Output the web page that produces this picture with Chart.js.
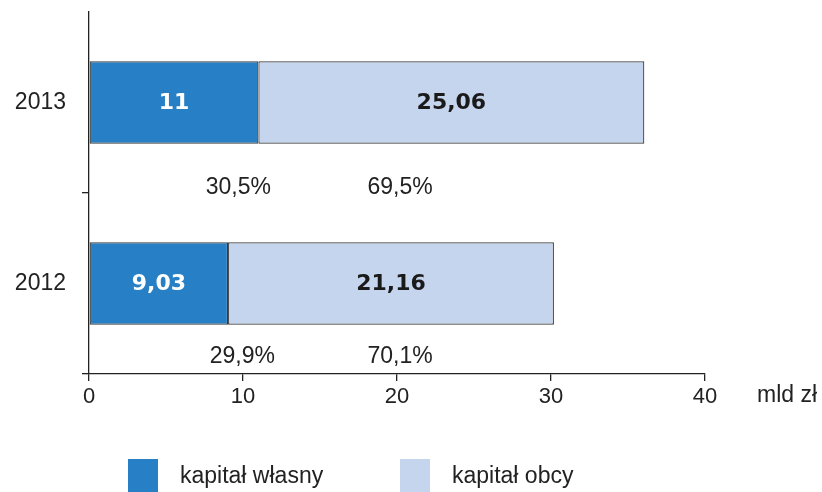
<!DOCTYPE html>
<html>
<head>
<meta charset="utf-8">
<script src="https://cdn.jsdelivr.net/npm/chart.js@4"></script>
<style>
  html, body { margin: 0; padding: 0; background: #fff; }
  #wrap { width: 822px; height: 492px; position: relative; }
</style>
</head>
<body>
<div id="wrap"><canvas id="chart"></canvas></div>
<script>
// data
const years = ['2013', '2012'];
const kapitalWlasny = [11, 9.03];
const kapitalObcy = [25.06, 21.16];
const udzialWlasny = ['30,5%', '29,9%'];
const udzialObcy = ['69,5%', '70,1%'];
const xTicks = [0, 10, 20, 30, 40];
const seriesNames = ['kapitał własny', 'kapitał obcy'];

const BLUE = '#2780c6';
const LIGHT = '#c6d5ee';
const AXIS = '#222222';
const FONT = '"Liberation Sans", Arial, sans-serif';

const fmt = (v) => String(v).replace('.', ',');

// value labels, percent labels, unit and legend
const extras = {
  id: 'extras',
  afterDatasetsDraw(chart) {
    const { ctx, scales } = chart;
    const x = scales.x, y = scales.y;
    ctx.save();
    ctx.textAlign = 'center';
    ctx.textBaseline = 'middle';
    ctx.font = 'bold 22px "DejaVu Sans", sans-serif';
    chart.data.datasets.forEach((ds, di) => {
      chart.getDatasetMeta(di).data.forEach((bar, i) => {
        const cx = (bar.x + bar.base) / 2;
        ctx.fillStyle = di === 0 ? '#ffffff' : '#1a1a1a';
        ctx.fillText(fmt(ds.data[i]), cx, bar.y + 1);
      });
    });

    // percentages under the bars
    ctx.font = '23px ' + FONT;
    ctx.fillStyle = '#222';
    const offs = [85, 73];
    years.forEach((_, i) => {
      const yy = y.getPixelForValue(i) + offs[i];
      ctx.fillText(udzialWlasny[i], x.getPixelForValue(9.7) + (i ? 4 : 0), yy);
      ctx.fillText(udzialObcy[i], x.getPixelForValue(20.2), yy);
    });

    // unit
    ctx.textAlign = 'left';
    ctx.font = '23px ' + FONT;
    ctx.fillText('mld zł', 757, 396);

    // legend
    const colors = [BLUE, LIGHT];
    const lx = [128, 400];
    ctx.font = '23px ' + FONT;
    seriesNames.forEach((name, i) => {
      ctx.fillStyle = colors[i];
      ctx.fillRect(lx[i], 459, 30, 36);
      ctx.fillStyle = '#222';
      ctx.fillText(name, lx[i] + 52, 477);
    });
    ctx.restore();
  }
};

new Chart(document.getElementById('chart'), {
  type: 'bar',
  data: {
    labels: years,
    datasets: [
      {
        label: seriesNames[0],
        data: kapitalWlasny,
        backgroundColor: BLUE,
        borderColor: '#3a3a3a',
        borderWidth: 1.2,
        borderSkipped: false,
      },
      {
        label: seriesNames[1],
        data: kapitalObcy,
        backgroundColor: LIGHT,
        borderColor: '#3a3a3a',
        borderWidth: 1.2,
        borderSkipped: false,
      },
    ],
  },
  options: {
    indexAxis: 'y',
    responsive: true,
    maintainAspectRatio: false,
    animation: false,
    layout: { padding: { top: 12, right: 117, left: 0, bottom: 0 } },
    datasets: { bar: { categoryPercentage: 1, barPercentage: 0.455 } },
    plugins: {
      legend: { display: false },
      tooltip: { enabled: false },
    },
    scales: {
      x: {
        stacked: true,
        min: 0,
        max: 40,
        afterBuildTicks: (s) => { s.ticks = xTicks.map((v) => ({ value: v })); },
        afterFit: (s) => { s.height = 118; s.paddingLeft = 0; s.paddingRight = 0; },
        border: { color: AXIS, width: 1.3 },
        grid: { drawOnChartArea: false, tickLength: 7, color: AXIS, lineWidth: 1.3 },
        ticks: { color: '#222', padding: 3, font: { family: FONT, size: 22 } },
      },
      y: {
        stacked: true,
        afterFit: (s) => { s.width = 89; s.paddingTop = 0; s.paddingBottom = 0; },
        border: { color: AXIS, width: 1.3 },
        grid: {
          offset: true,
          drawOnChartArea: false,
          tickLength: 7,
          lineWidth: 1.3,
          color: (c) => (c.index === 0 ? 'rgba(0,0,0,0)' : AXIS),
        },
        ticks: { color: '#222', padding: 16, font: { family: FONT, size: 23 } },
      },
    },
  },
  plugins: [extras],
});
</script>
</body>
</html>
